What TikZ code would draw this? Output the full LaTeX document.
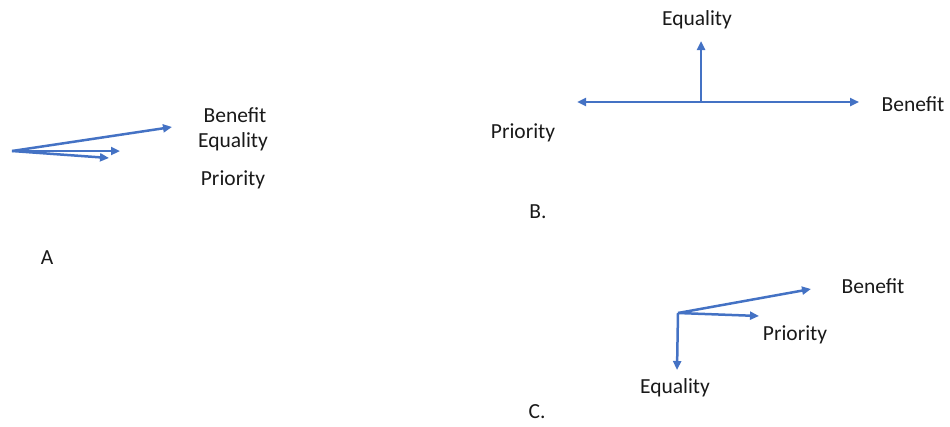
\documentclass[tikz,border=0pt]{standalone}
\usepackage{fontspec}
\setmainfont{Carlito}
\usetikzlibrary{arrows.meta}
\definecolor{arrblue}{RGB}{68,114,196}
\begin{document}
\begin{tikzpicture}[x=1pt,y=-1pt,
  vec/.style={draw=arrblue,line width=2.5pt,-{Triangle[length=9pt,width=8pt]}},
  lbl/.style={inner sep=0pt,font=\fontsize{21.5}{25}\selectfont,text=black!90}]
\useasboundingbox (0,0) rectangle (950,426);
% Panel A
\coordinate (Ao) at (12,151);
\coordinate (Ab) at (172,127);
\coordinate (Ae) at (120,151);
\coordinate (Ap) at (109,158);
\draw[vec] (Ao) -- (Ab);
\draw[vec] (Ao) -- (Ae);
\draw[vec] (Ao) -- (Ap);
\node[lbl] (Abl) at (235,115) {Benefit};
\node[lbl] (Ael) at (233,142) {Equality};
\node[lbl] (Apl) at (233,180) {Priority};
\node[lbl] (Al) at (47,258) {A};
% Panel B
\coordinate (Bo) at (701,102);
\coordinate (Bl) at (577,102);
\coordinate (Br) at (859,102);
\coordinate (Bu) at (701,41);
\draw[vec] (Bo) -- (Bl);
\draw[vec] (Bo) -- (Br);
\draw[vec] (Bo) -- (Bu);
\node[lbl] (Bel) at (697,20) {Equality};
\node[lbl] (Bbl) at (913,104) {Benefit};
\node[lbl] (Bpl) at (523,133) {Priority};
\node[lbl] (Blab) at (538,212) {B.};
% Panel C
\coordinate (Co) at (678,313);
\coordinate (Cb) at (811,289);
\coordinate (Cp) at (759,316);
\coordinate (Ce) at (677,370);
\draw[vec] (Co) -- (Cb);
\draw[vec] (Co) -- (Cp);
\draw[vec] (Co) -- (Ce);
\node[lbl] (Cbl) at (873,286) {Benefit};
\node[lbl] (Cpl) at (795,335) {Priority};
\node[lbl] (Cel) at (675,388) {Equality};
\node[lbl] (Clab) at (537,412) {C.};
\end{tikzpicture}
\end{document}
